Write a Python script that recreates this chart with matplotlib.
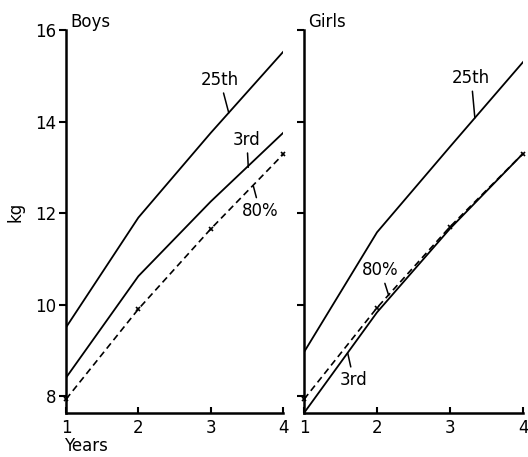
import matplotlib.pyplot as plt

years = [1, 2, 3, 4]

boys_25th = [9.5, 11.9, 13.75, 15.52]
boys_3rd = [8.4, 10.62, 12.25, 13.75]
boys_80pc = [7.93, 9.9, 11.65, 13.28]

girls_25th = [8.96, 11.58, 13.45, 15.3]
girls_3rd = [7.63, 9.83, 11.66, 13.3]
girls_80pc = [7.93, 9.93, 11.7, 13.3]

plt.rcParams['font.family'] = 'DejaVu Sans'
plt.rcParams['font.size'] = 11

fig = plt.figure(figsize=(5.28, 4.57), dpi=100)
ax1 = fig.add_axes([0.125, 0.0963, 0.411, 0.838])
ax2 = fig.add_axes([0.5758, 0.0963, 0.4148, 0.838])

dash = (0, (4, 2.5))
for ax, p25, p3, p80 in [(ax1, boys_25th, boys_3rd, boys_80pc),
                         (ax2, girls_25th, girls_3rd, girls_80pc)]:
    ax.plot(years, p25, color='black', lw=1.3)
    ax.plot(years, p3, color='black', lw=1.3)
    ax.plot(years, p80, color='black', lw=1.2, linestyle=dash,
            marker='x', markersize=3.5, markeredgewidth=1.2, clip_on=False)
    ax.set_xlim(1, 4)
    ax.set_ylim(7.63, 16)
    ax.set_xticks(years)
    ax.set_yticks([8, 10, 12, 14, 16])
    for s in ['top', 'right']:
        ax.spines[s].set_visible(False)
    ax.spines['left'].set_linewidth(1.8)
    ax.spines['bottom'].set_linewidth(1.8)
    ax.tick_params(axis='y', direction='out', length=5, width=1.5, pad=2,
                   labelsize=12)
    ax.tick_params(axis='x', direction='in', length=4, width=1.5, pad=4,
                   labelsize=12)

ax1.set_yticklabels(['8', '10', '12', '14', '16'])
ax2.set_yticklabels([])

lead = dict(arrowstyle='-', lw=1.1, color='black', shrinkA=1, shrinkB=0)
ax1.annotate('25th', xy=(3.25, 14.19), xytext=(3.13, 14.91), fontsize=12,
             ha='center', va='center', arrowprops=lead)
ax1.annotate('3rd', xy=(3.52, 13.0), xytext=(3.5, 13.6), fontsize=12,
             ha='center', va='center', arrowprops=lead)
ax1.annotate('80%', xy=(3.59, 12.59), xytext=(3.68, 12.05), fontsize=12,
             ha='center', va='center', arrowprops=lead)

ax2.annotate('25th', xy=(3.34, 14.08), xytext=(3.29, 14.95), fontsize=12,
             ha='center', va='center', arrowprops=lead)
ax2.annotate('80%', xy=(2.16, 10.2), xytext=(2.05, 10.75), fontsize=12,
             ha='center', va='center', arrowprops=lead)
ax2.annotate('3rd', xy=(1.6, 8.93), xytext=(1.68, 8.35), fontsize=12,
             ha='center', va='center', arrowprops=lead)

fig.text(70 / 528, 1 - 22 / 457, 'Boys', ha='left', va='center', fontsize=12)
fig.text(308 / 528, 1 - 22 / 457, 'Girls', ha='left', va='center', fontsize=12)
fig.text(15 / 528, 1 - 212 / 457, 'kg', rotation=90, ha='center', va='center',
         fontsize=12)
fig.text(64 / 528, 1 - 446 / 457, 'Years', ha='left', va='center', fontsize=12)

fig.savefig('out.png', dpi=100)
